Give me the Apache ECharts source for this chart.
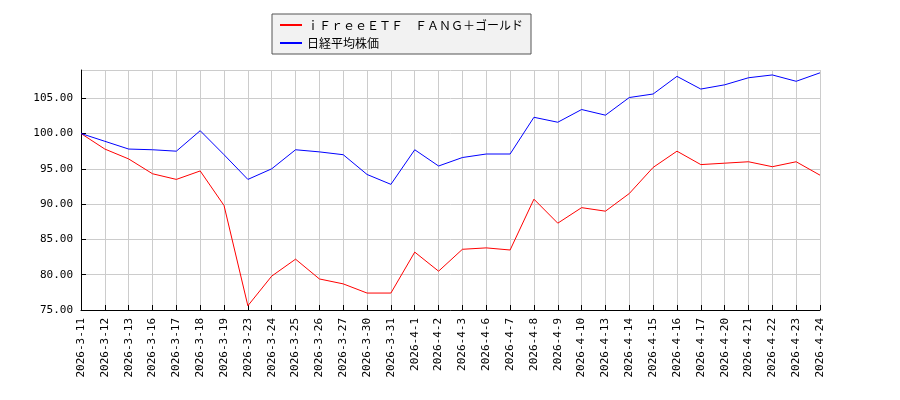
<!DOCTYPE html><html><head><meta charset="utf-8"><script src="https://cdn.jsdelivr.net/npm/echarts@6/dist/echarts.min.js"></script></head><body style="margin:0"><div id="c" style="width:900px;height:400px"></div><script>
const categories=['2026-3-11','2026-3-12','2026-3-13','2026-3-16','2026-3-17','2026-3-18','2026-3-19','2026-3-23','2026-3-24','2026-3-25','2026-3-26','2026-3-27','2026-3-30','2026-3-31','2026-4-1','2026-4-2','2026-4-3','2026-4-6','2026-4-7','2026-4-8','2026-4-9','2026-4-10','2026-4-13','2026-4-14','2026-4-15','2026-4-16','2026-4-17','2026-4-20','2026-4-21','2026-4-22','2026-4-23','2026-4-24'];
const fangGold=[100,97.8,96.4,94.3,93.5,94.7,89.8,75.6,79.8,82.2,79.4,78.7,77.4,77.4,83.2,80.5,83.6,83.8,83.5,90.7,87.3,89.5,89.0,91.5,95.2,97.5,95.6,95.8,96.0,95.3,96.0,94.1];
const nikkei=[100,98.9,97.8,97.7,97.5,100.4,97.0,93.5,95.0,97.7,97.4,97.0,94.2,92.8,97.7,95.4,96.6,97.1,97.1,102.3,101.6,103.4,102.6,105.1,105.6,108.1,106.3,106.9,107.9,108.3,107.4,108.6];
const names=['ｉＦｒｅｅＥＴＦ　ＦＡＮＧ＋ゴールド','日経平均株価'];
const ch=echarts.init(document.getElementById('c'));
ch.setOption({animation:false,
legend:{left:272,top:14,orient:'vertical',itemWidth:22,itemHeight:2,itemGap:6,padding:[5,8],borderColor:'#555',borderWidth:1,backgroundColor:'#f2f2f2',borderRadius:0,textStyle:{fontSize:12,color:'#000',fontFamily:'Noto Sans CJK JP'},data:names.map(n=>({name:n,icon:'rect'}))},
grid:{left:81,right:80,top:70,bottom:90},
xAxis:{type:'category',boundaryGap:false,data:categories,axisLine:{lineStyle:{color:'#000'}},axisTick:{inside:true,lineStyle:{color:'#000'}},axisLabel:{rotate:90,color:'#000',fontSize:11,fontFamily:'DejaVu Sans Mono',interval:0},splitLine:{show:true,lineStyle:{color:'#ccc'}}},
yAxis:{type:'value',min:75,max:109,interval:5,axisLine:{show:true,lineStyle:{color:'#000'}},axisTick:{show:true,inside:true},axisLabel:{color:'#000',fontSize:11,fontFamily:'DejaVu Sans Mono',showMaxLabel:false,formatter:v=>v===109?'':v.toFixed(2)},splitLine:{lineStyle:{color:'#ccc'}}},
series:[{name:names[0],type:'line',data:fangGold,symbol:'none',lineStyle:{color:'#f00',width:1},itemStyle:{color:'#f00'}},
{name:names[1],type:'line',data:nikkei,symbol:'none',lineStyle:{color:'#00f',width:1},itemStyle:{color:'#00f'}}]});
</script></body></html>
